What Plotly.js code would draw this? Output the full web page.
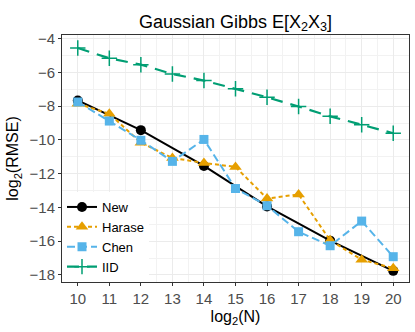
<!DOCTYPE html>
<html>
<head>
<meta charset="utf-8">
<script src="https://cdn.plot.ly/plotly-3.0.1.min.js"></script>
<style>body{margin:0;} #chart{width:415px;height:332px;}</style>
</head>
<body>
<div id="chart"></div>
<script>
// log2(N) values
let n = [10, 11, 12, 13, 14, 15, 16, 17, 18, 19, 20];
let nEven = [10, 12, 14, 16, 18, 20];

// log2(RMSE) per method
let newVals = [-7.66, -9.42, -11.54, -13.94, -15.97, -17.76];
let haraseVals = [-7.85, -8.45, -10.16, -11.07, -11.36, -11.6, -13.47, -13.23, -15.95, -17.1, -17.6];
let chenVals = [-7.75, -8.88, -10.02, -11.27, -9.97, -12.88, -13.9, -15.44, -16.27, -14.81, -16.92];
let iidVals = [-4.55, -5.16, -5.54, -6.09, -6.48, -6.97, -7.47, -8.02, -8.6, -9.1, -9.6];

let font = 'Liberation Sans, Arial, sans-serif';

let data = [
  {x: nEven, y: newVals, name: 'New', mode: 'lines+markers',
   line: {color: '#000000', width: 2, dash: 'solid'},
   marker: {symbol: 'circle', size: 10, color: '#000000'}},
  {x: n, y: haraseVals, name: 'Harase', mode: 'lines+markers',
   line: {color: '#E69F00', width: 2, dash: '4px,3px'},
   marker: {symbol: 'triangle-up', size: 11, color: '#E69F00'}},
  {x: n, y: chenVals, name: 'Chen', mode: 'lines+markers',
   line: {color: '#56B4E9', width: 2, dash: '8px,4px'},
   marker: {symbol: 'square', size: 9, color: '#56B4E9'}},
  {x: n, y: iidVals, name: 'IID', mode: 'lines+markers',
   line: {color: '#009E73', width: 2.2, dash: '12px,8px'},
   marker: {symbol: 'cross-thin', size: 11, line: {color: '#009E73', width: 1.5}}}
];

let layout = {
  width: 415, height: 332,
  margin: {l: 62, r: 6, t: 35, b: 50},
  paper_bgcolor: 'white', plot_bgcolor: 'white',
  font: {family: font, color: '#000000'},
  title: {text: 'Gaussian Gibbs E[X<sub>2</sub>X<sub>3</sub>]', xref: 'paper', x: 0.5, xanchor: 'center', y: 0.955,
          font: {size: 18, family: font, color: '#000000'}},
  showlegend: true,
  legend: {x: 0, y: 0, xanchor: 'left', yanchor: 'bottom', bgcolor: 'white',
           font: {size: 13, family: font}, borderwidth: 0, tracegroupgap: 0},
  xaxis: {
    range: [9.5, 20.5], dtick: 1, tick0: 10,
    title: {text: 'log<sub>2</sub>(N)', font: {size: 16, family: font}, standoff: 4},
    tickfont: {size: 15, color: '#4D4D4D', family: font},
    ticks: 'outside', ticklen: 3, tickcolor: '#333333',
    showline: true, linecolor: '#333333', linewidth: 1, mirror: true,
    showgrid: true, gridcolor: '#EBEBEB', gridwidth: 1, zeroline: false,
    minor: {dtick: 0.5, showgrid: true, gridcolor: '#F2F2F2', gridwidth: 0.6}
  },
  yaxis: {
    range: [-18.42, -3.78], dtick: 2, tick0: -18,
    title: {text: 'log<sub>2</sub>(RMSE)', font: {size: 16, family: font}, standoff: 6},
    tickfont: {size: 15, color: '#4D4D4D', family: font},
    ticks: 'outside', ticklen: 3, tickcolor: '#333333',
    showline: true, linecolor: '#333333', linewidth: 1, mirror: true,
    showgrid: true, gridcolor: '#EBEBEB', gridwidth: 1, zeroline: false,
    minor: {dtick: 1, showgrid: true, gridcolor: '#F2F2F2', gridwidth: 0.6}
  }
};

Plotly.newPlot('chart', data, layout, {displayModeBar: false});
</script>
</body>
</html>
